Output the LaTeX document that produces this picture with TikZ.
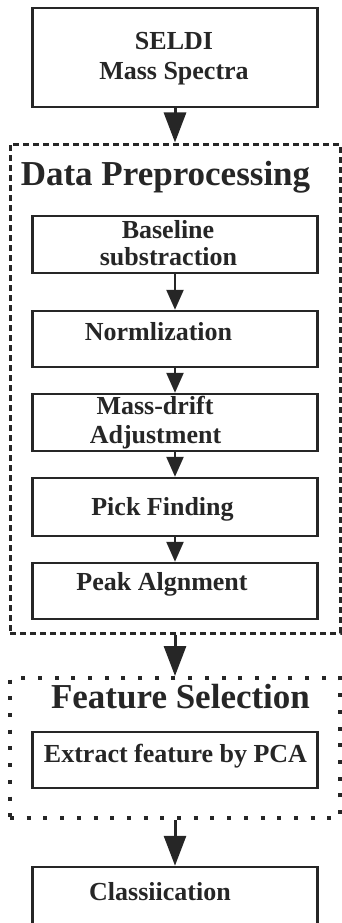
\documentclass[tikz,border=0pt]{standalone}
\usepackage{fontspec}
\setmainfont{Liberation Serif}
\usetikzlibrary{arrows.meta}

\begin{document}
\begin{tikzpicture}[x=1pt, y=-1pt, line width=2.5pt, color=black!85,
    box/.style={draw, minimum width=285pt, inner sep=0pt},
    dashgrp/.style={draw, minimum width=330pt, inner sep=0pt, line width=3pt, dash pattern=on 6pt off 4pt},
    dotgrp/.style={draw, minimum width=330pt, inner sep=0pt, line width=4pt, dash pattern=on 4pt off 12.7pt},
    txt/.style={anchor=base, inner sep=0pt, font=\fontsize{26}{30}\selectfont\bfseries},
    head/.style={anchor=base, inner sep=0pt, font=\fontsize{35}{40}\selectfont\bfseries},
    big/.style={line width=3pt, -{Triangle[width=22pt,length=30pt]}},
    small/.style={line width=2.5pt, -{Triangle[width=17pt,length=20pt]}}]
      \clip (0,0) rectangle (342,923);
      \node[dashgrp, minimum height=489pt] (pre) at (175,388.5) {};
      \node[dotgrp, minimum height=140pt] (feat) at (175,748) {};
      \node[box, minimum height=99pt] (seldi) at (175,57.5) {};
      \node[box, minimum height=57pt] (base) at (175,244.5) {};
      \node[box, minimum height=56pt] (norm) at (175,339) {};
      \node[box, minimum height=57pt] (drift) at (175,422.5) {};
      \node[box, minimum height=58pt] (pick) at (175,507) {};
      \node[box, minimum height=56pt] (align) at (175,591) {};
      \node[box, minimum height=56pt] (pca) at (175,760) {};
      \node[box, minimum height=60pt] (cls) at (175,897) {};
      \draw[big] (seldi) -- (pre);
      \draw[small] (base) -- (norm);
      \draw[small] (norm) -- (drift);
      \draw[small] (drift) -- (pick);
      \draw[small] (pick) -- (align);
      \draw[big] (pre) -- (feat);
      \draw[big] (feat) -- (cls);
      \node[txt] (seldiA) at (174,50) {SELDI};
      \node[txt] (seldiB) at (174,80) {Mass Spectra};
      \node[head] (preT) at (165.5,185) {Data Preprocessing};
      \node[txt] (baseA) at (168,238) {Baseline};
      \node[txt] (baseB) at (168.5,265) {substraction};
      \node[txt] (normT) at (158.5,340) {Normlization};
      \node[txt] (driftA) at (155,414) {Mass-drift};
      \node[txt] (driftB) at (155.5,443) {Adjustment};
      \node[txt] (pickT) at (162.5,515) {Pick Finding};
      \node[txt] (alignT) at (162,590) {Peak Algnment};
      \node[head] (featT) at (180.5,708) {Feature Selection};
      \node[txt] (pcaT) at (175.5,762) {Extract feature by PCA};
      \node[txt] (clsT) at (160,900) {Classiication};
    \end{tikzpicture}
\end{document}
